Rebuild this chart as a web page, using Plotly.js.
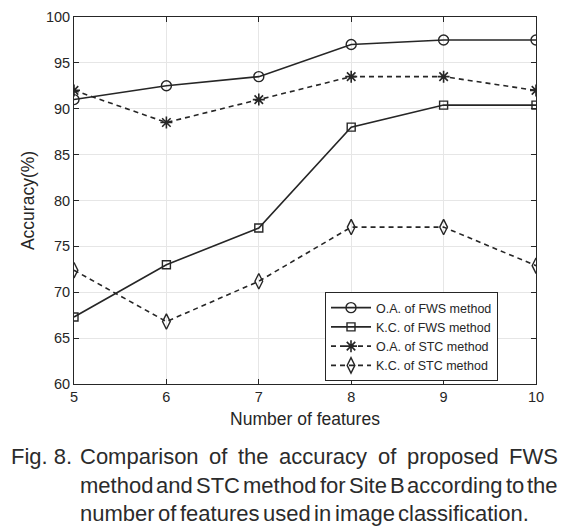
<!DOCTYPE html>
<html>
<head>
<meta charset="utf-8">
<script src="https://cdn.plot.ly/plotly-3.0.1.min.js"></script>
<style>
html,body{margin:0;padding:0;background:#fff;}
#chart{width:578px;height:531px;}
</style>
</head>
<body>
<div id="chart"></div>
<script>
// ---- data ----
const features = [5, 6, 7, 8, 9, 10];
const oaFWS = [91.0, 92.5, 93.5, 97.0, 97.5, 97.5];
const kcFWS = [67.3, 73.0, 77.0, 88.0, 90.4, 90.4];
const oaSTC = [92.0, 88.5, 91.0, 93.5, 93.5, 92.0];
const kcSTC = [72.4, 66.8, 71.2, 77.1, 77.1, 72.9];
const seriesNames = ["O.A. of FWS method", "K.C. of FWS method", "O.A. of STC method", "K.C. of STC method"];
const xTickVals = [5, 6, 7, 8, 9, 10];
const yTickVals = [60, 65, 70, 75, 80, 85, 90, 95, 100];
const xTitle = "Number of features";
const yTitle = "Accuracy(%)";
const captionLines = [
  "Comparison of the accuracy of proposed FWS",
  "method and STC method for Site B according to the",
  "number of features used in image classification."
];
const captionLabel = "Fig. 8.";

// ---- layout geometry (pixels) ----
const W = 578, H = 531;
const M = {l: 74, r: 42, t: 17, b: 147};
const plotW = W - M.l - M.r, plotH = H - M.t - M.b;
const px2x = p => (p - M.l) / plotW;
const py2y = p => (H - M.b - p) / plotH;

const ink = "#262626";
const sans = '"Liberation Sans", Arial, sans-serif';
const capSize = 22;
const capColor = "#2b2b2b";

const canvas = document.createElement("canvas");
const ctx = canvas.getContext("2d");
ctx.font = capSize + "px " + sans;
const mw = s => ctx.measureText(s).width;

const annotations = [];
function addWord(text, xpx, ypx) {
  annotations.push({
    text: text, xref: "paper", yref: "paper",
    x: px2x(xpx), y: py2y(ypx), xanchor: "left", yanchor: "middle",
    showarrow: false, font: {family: sans, size: capSize, color: capColor}
  });
}
addWord(captionLabel, 9, 456);
const lineY = [456, 485, 513];
const capLeft = 78, capRight = 556;
captionLines.forEach((line, i) => {
  const words = line.split(" ");
  const widths = words.map(mw);
  const total = widths.reduce((a, b) => a + b, 0);
  let gap = (i < 2) ? (capRight - capLeft - total) / (words.length - 1) : 3.5;
  let x = capLeft;
  words.forEach((w, k) => { addWord(w, x, lineY[i]); x += widths[k] + gap; });
});

const lineW = 1.6;
const traces = [
  {x: features, y: oaFWS, name: seriesNames[0], mode: "lines+markers",
   line: {color: ink, width: lineW, dash: "solid"},
   marker: {symbol: "circle-open", size: 10, color: ink, line: {width: 1.4, color: ink}}},
  {x: features, y: kcFWS, name: seriesNames[1], mode: "lines+markers",
   line: {color: ink, width: lineW, dash: "solid"},
   marker: {symbol: "square-open", size: 8, color: ink, line: {width: 1.4, color: ink}}},
  {x: features, y: oaSTC, name: seriesNames[2], mode: "lines+markers",
   line: {color: ink, width: lineW, dash: "5px,4px"},
   marker: {symbol: "asterisk-open", size: 10, color: ink, line: {width: 1.6, color: ink}}},
  {x: features, y: kcSTC, name: seriesNames[3], mode: "lines+markers",
   line: {color: ink, width: lineW, dash: "5px,4px"},
   marker: {symbol: "diamond-tall-open", size: 11, color: ink, line: {width: 1.4, color: ink}}}
];

const axisCommon = {
  showline: true, linecolor: ink, linewidth: 1, mirror: "ticks",
  ticks: "inside", ticklen: 5, tickcolor: ink, tickwidth: 1,
  showgrid: true, gridcolor: "#e6e6e6", gridwidth: 1, zeroline: false,
  tickfont: {family: sans, size: 14.5, color: ink}
};

const layout = {
  width: W, height: H,
  margin: M,
  paper_bgcolor: "#fff", plot_bgcolor: "#fff",
  showlegend: true,
  xaxis: Object.assign({}, axisCommon, {
    range: [5, 10], tickvals: xTickVals, ticktext: xTickVals.map(String),
    title: {text: xTitle, standoff: 8, font: {family: sans, size: 17.5, color: ink}}
  }),
  yaxis: Object.assign({}, axisCommon, {
    range: [60, 100], tickvals: yTickVals, ticktext: yTickVals.map(String),
    title: {text: yTitle, standoff: 6, font: {family: sans, size: 17.5, color: ink}}
  }),
  legend: {
    x: px2x(325), y: py2y(292), xanchor: "left", yanchor: "top",
    bgcolor: "#fff", bordercolor: ink, borderwidth: 1,
    font: {family: sans, size: 12.5, color: ink},
    itemwidth: 40, tracegroupgap: 0
  },
  annotations: annotations
};

Plotly.newPlot("chart", traces, layout, {displayModeBar: false, staticPlot: true});
</script>
</body>
</html>
